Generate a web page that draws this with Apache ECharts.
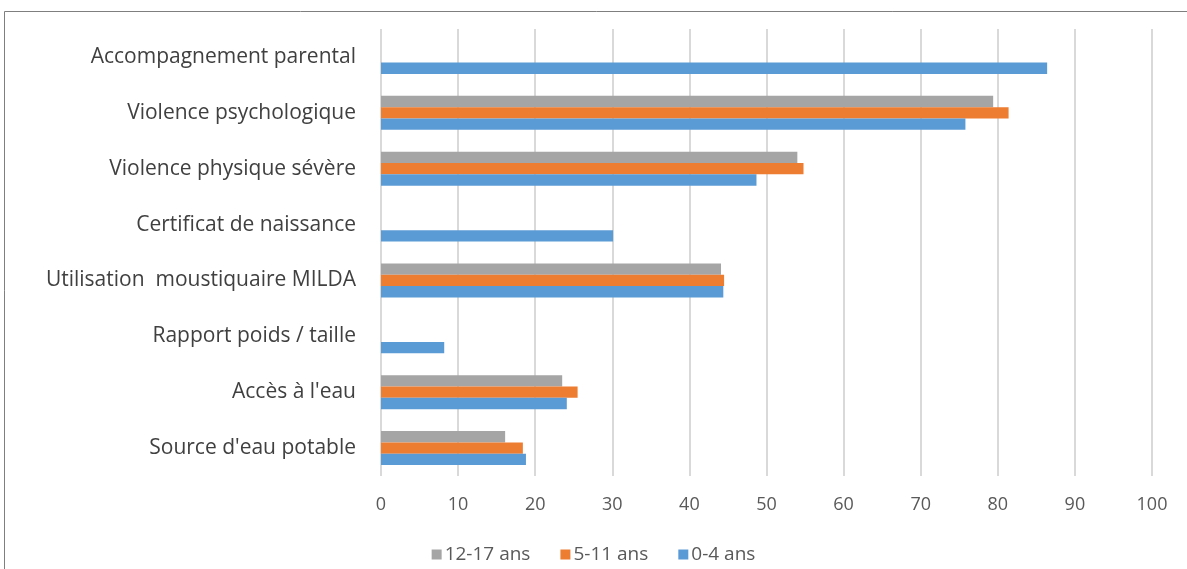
<!DOCTYPE html>
<html>
<head>
<meta charset="utf-8">
<script src="https://cdn.jsdelivr.net/npm/echarts@6/dist/echarts.min.js"></script>
<style>
  html, body { margin: 0; padding: 0; background: #ffffff; }
  #chart { width: 1187px; height: 569px; }
</style>
</head>
<body>
<div id="chart"></div>
<script>
// Indicator names, bottom to top along the category axis
var categories = [
  "Source d'eau potable",
  "Accès à l'eau",
  "Rapport poids / taille",
  "Utilisation  moustiquaire MILDA",
  "Certificat de naissance",
  "Violence physique sévère",
  "Violence psychologique",
  "Accompagnement parental"
];

// Percentages per age group (null = indicator not measured for that group)
var age0to4   = [18.8, 24.1, 8.2, 44.4, 30.1, 48.7, 75.8, 86.4];
var age5to11  = [18.4, 25.5, null, 44.5, null, 54.8, 81.4, null];
var age12to17 = [16.1, 23.5, null, 44.1, null, 54.0, 79.4, null];

// Series order: the first one is drawn at the top of each group
var seriesNames = ['12-17 ans', '5-11 ans', '0-4 ans'];

var colors = { '0-4 ans': '#5b9bd5', '5-11 ans': '#ed7d31', '12-17 ans': '#a5a5a5' };
var values = { '0-4 ans': age0to4, '5-11 ans': age5to11, '12-17 ans': age12to17 };

var chart = echarts.init(document.getElementById('chart'), null, { renderer: 'canvas' });

var font = '"Open Sans", "Noto Sans", sans-serif';

chart.setOption({
  animation: false,
  backgroundColor: '#ffffff',
  graphic: [{
    type: 'rect',
    silent: true,
    shape: { x: 4.5, y: 11.5, width: 1300, height: 700 },
    style: { fill: 'none', stroke: '#7f7f7f', lineWidth: 1 }
  }],
  legend: {
    data: seriesNames,
    bottom: 0,
    left: 'center',
    itemWidth: 10,
    itemHeight: 10,
    itemGap: 30,
    icon: 'rect',
    textStyle: { color: '#595959', fontSize: 19, fontFamily: font, padding: [0, 0, 0, -2] }
  },
  grid: { left: 381, right: 35, top: 29, bottom: 93 },
  xAxis: {
    type: 'value',
    min: 0,
    max: 100,
    interval: 10,
    axisLine: { show: false },
    axisTick: { show: false },
    axisLabel: { color: '#595959', fontSize: 18, fontFamily: font, margin: 20 },
    splitLine: { show: true, lineStyle: { color: '#d9d9d9', width: 2 } }
  },
  yAxis: {
    type: 'category',
    data: categories,
    axisLine: { show: false },
    axisTick: { show: false },
    axisLabel: { color: '#404040', fontSize: 21, fontFamily: font, margin: 25 }
  },
  series: seriesNames.map(function (name) {
    return {
      name: name,
      type: 'bar',
      data: values[name],
      barGap: '0%',
      barCategoryGap: '39%',
      itemStyle: { color: colors[name] }
    };
  })
});
</script>
</body>
</html>
